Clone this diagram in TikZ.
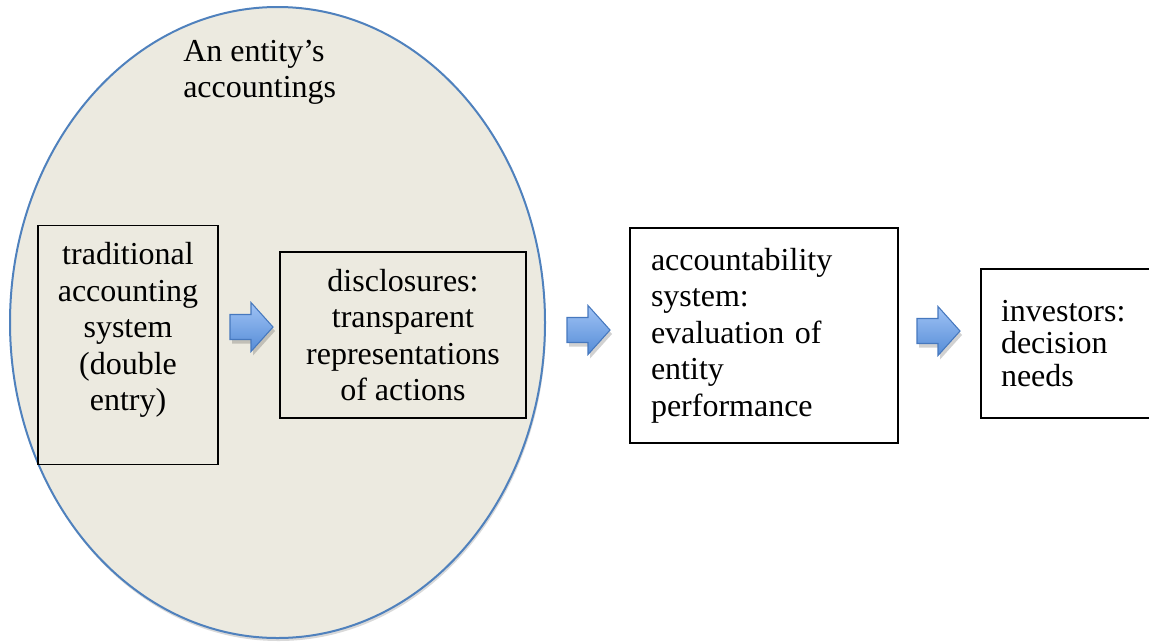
\documentclass[tikz,border=0pt]{standalone}
\usepackage{fontspec}
\setmainfont{Liberation Serif}
\usepackage{tikz}

\definecolor{entityfill}{RGB}{236,234,224}
\definecolor{entityline}{RGB}{79,129,189}
\definecolor{arrowtop}{RGB}{160,195,245}
\definecolor{arrowbot}{RGB}{85,140,215}
\definecolor{arrowline}{RGB}{70,120,190}

\begin{document}
\begin{tikzpicture}[x=0.75pt,y=0.75pt,yscale=-1,xscale=1,
  bigtext/.style={font=\fontsize{24}{27.4}\selectfont},
  stepbox/.style={draw=black,line width=1.3pt,inner sep=0pt},
  blockarr/.style={draw=arrowline,line width=0.8pt,line join=miter,top color=arrowtop,bottom color=arrowbot},
  arrshadow/.style={fill=black,opacity=0.18}]
\useasboundingbox (0,0) rectangle (1149,643);

%Shape: Ellipse [id:entity] 
\fill [black,opacity=0.15] (278.5,325.5) ellipse [x radius=267.5, y radius=315.5];
\draw [draw=entityline,fill=entityfill,line width=1.5pt] (277.5,322.5) ellipse [x radius=267.5, y radius=315.5];

% Text Node
\node [anchor=north west,inner sep=0pt,align=left,font=\fontsize{24}{27}\selectfont] (title) at (183,40) {An entity’s\\accountings};

%Shape: Rectangle [id:trad] 
\node [stepbox,minimum width=135pt,minimum height=179.25pt] (trad) at (128,345) {};
% Text Node
\node [align=center,inner sep=0pt,bigtext] (tradtxt) at (128,330) {traditional\\accounting\\system\\(double\\entry)};

%Shape: Rectangle [id:disc] 
\node [stepbox,minimum width=184.5pt,minimum height=124.5pt,align=center,bigtext] (disc) at (403,335) {disclosures:\\transparent\\representations\\of actions};

%Shape: Rectangle [id:acct] 
\node [stepbox,fill=white,minimum height=161.25pt,inner xsep=15.75pt,text width=169.5pt,align=left,bigtext] (acct) at (764,335.5) {accountability\\system:\\evaluation of\\entity\\performance};

%Shape: Rectangle [id:inv] 
\node [stepbox,fill=white,minimum height=111.75pt,inner xsep=15pt,text width=120pt,align=left,font=\fontsize{24}{24.4}\selectfont] (inv) at (1081,343.5) {investors:\\decision\\needs};

% Block arrows
\coordinate (a1) at (230,327);
\coordinate (a2) at (567,330);
\coordinate (a3) at (917,331);
\foreach \a in {a1,a2,a3}{
  \fill [arrshadow,shift={(\a)},xshift=1.5,yshift=3] (0,-12.5) -- (21,-12.5) -- (21,-24.5) -- (43,0) -- (21,24.5) -- (21,12.5) -- (0,12.5) -- cycle;
  \draw [blockarr,shift={(\a)}] (0,-12.5) -- (21,-12.5) -- (21,-24.5) -- (43,0) -- (21,24.5) -- (21,12.5) -- (0,12.5) -- cycle;
}
\end{tikzpicture}
\end{document}
